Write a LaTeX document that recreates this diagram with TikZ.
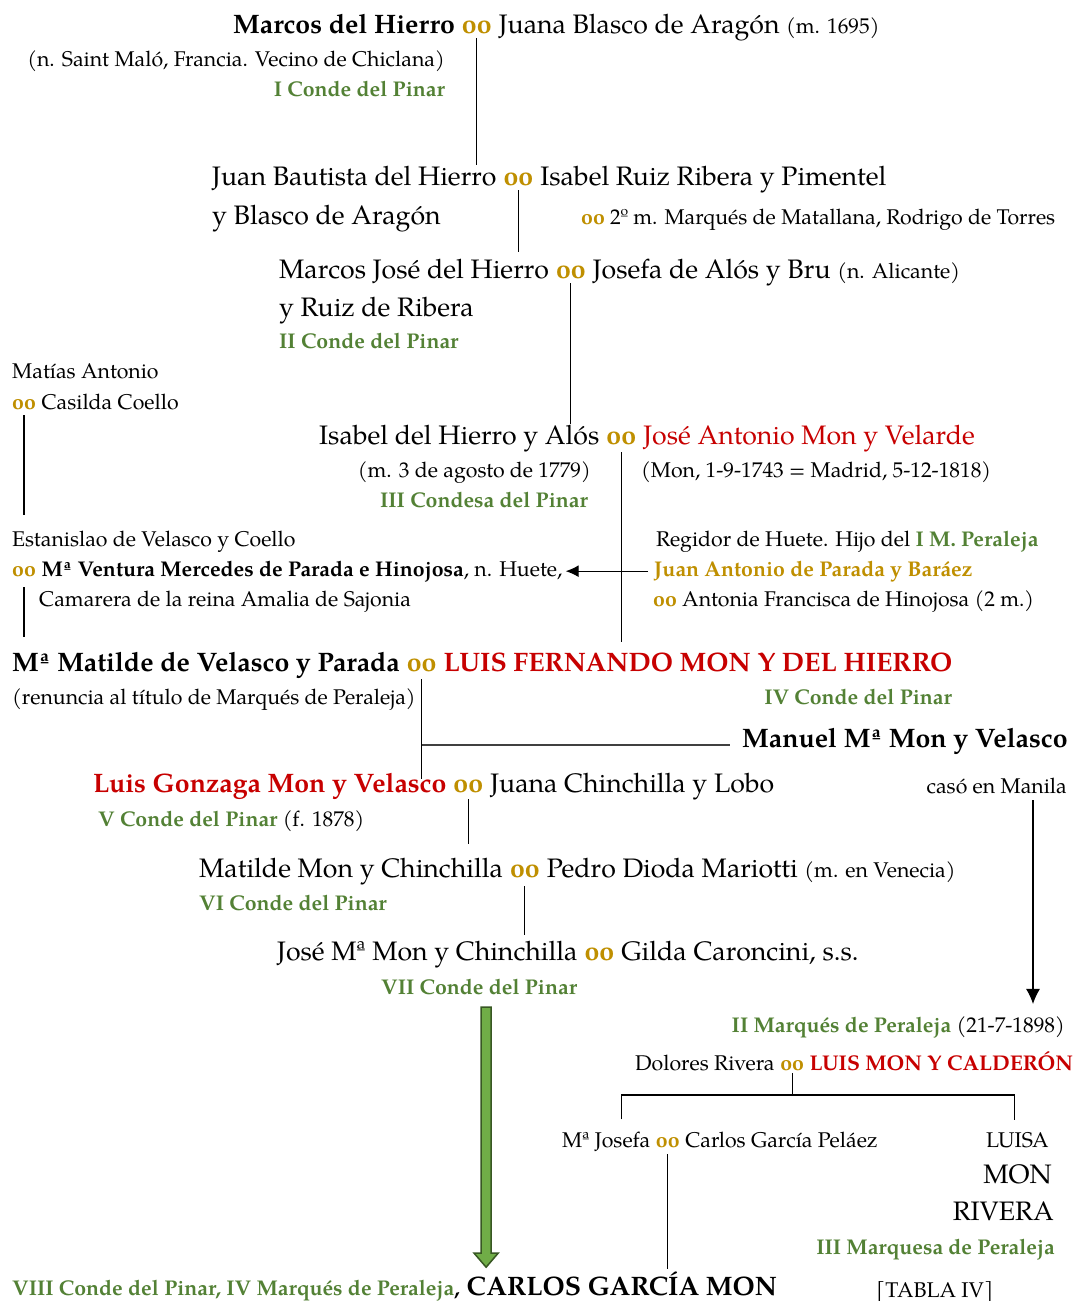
\documentclass[tikz,border=0pt]{standalone}
\usepackage{fontspec}
\setmainfont{TeX Gyre Pagella}
\usetikzlibrary{calc,arrows.meta}

\newlength{\du}
\setlength{\du}{1pt}
\newcommand{\bigfont}{\fontsize{26.7}{30}\selectfont}
\newcommand{\midfont}{\fontsize{21.3}{25}\selectfont}

\definecolor{wedgold}{rgb}{0.749020, 0.560784, 0.000000}
\definecolor{pinargreen}{rgb}{0.325490, 0.505882, 0.207843}
\definecolor{monred}{rgb}{0.780392, 0.000000, 0.000000}
\definecolor{arrowfill}{rgb}{0.439216, 0.678431, 0.278431}
\definecolor{arrowedge}{rgb}{0.219608, 0.341176, 0.137255}

\tikzset{
  namebig/.style={inner sep=0pt, anchor=base west, font=\bigfont},
  namebigbf/.style={namebig, font=\bigfont\bfseries},
  namemid/.style={inner sep=0pt, anchor=base west, font=\midfont},
  namemidbf/.style={namemid, font=\midfont\bfseries},
  wedbig/.style={namebigbf, text=wedgold, inner xsep=6.7\du},
  wedmid/.style={namemidbf, text=wedgold, inner xsep=5.3\du},
  titlemid/.style={namemidbf, text=pinargreen},
  kin/.style={draw=black, line width=1.1\du},
  forkline/.style={draw=black!75, line width=2\du},
  bigarrow/.style={draw=arrowedge, fill=arrowfill, line width=1.5\du, line join=miter},
}

\begin{document}
\begin{tikzpicture}
\pgftransformxscale{1.000000}
\pgftransformyscale{-1.000000}
\useasboundingbox (0\du,0\du) rectangle (1073\du,1301\du);

% I Conde
\node[namebigbf] (mdh) at (233.000000\du,33.000000\du){Marcos del Hierro};
\node[wedbig] (w1) at (mdh.base east){oo};
\node[namebig] (jba) at (w1.base east){Juana Blasco de Aragón {\midfont(m. 1695)}};
\node[namemid, anchor=base east] (nsm) at (445.000000\du,66.000000\du){(n. Saint Maló, Francia. Vecino de Chiclana)};
\node[titlemid, anchor=base east] (c1) at (445.000000\du,96.000000\du){I Conde del Pinar};

\node[namebig] (jbh) at (212.000000\du,185.000000\du){Juan Bautista del Hierro};
\node[wedbig] (w2) at (jbh.base east){oo};
\node[namebig] (irr) at (w2.base east){Isabel Ruiz Ribera y Pimentel};
\node[namebig] (yba) at (212.000000\du,224.000000\du){y Blasco de Aragón};
\node[namemid] (mtl) at (581.000000\du,224.000000\du){\textcolor{wedgold}{\bfseries oo} 2º m. Marqués de Matallana, Rodrigo de Torres};

% II Conde
\node[namebig] (mjh) at (279.000000\du,278.000000\du){Marcos José del Hierro};
\node[wedbig] (w3) at (mjh.base east){oo};
\node[namebig] (jab) at (w3.base east){Josefa de Alós y Bru {\midfont(n. Alicante)}};
\node[namebig] (yrr) at (279.000000\du,316.000000\du){y Ruiz de Ribera};
\node[titlemid] (c2) at (279.000000\du,348.000000\du){II Conde del Pinar};

\node[namemid] (mat) at (12.000000\du,378.000000\du){Matías Antonio};
\node[wedmid, inner xsep=0pt] (w4) at (12.000000\du,409.000000\du){oo};
\node[namemid] (cco) at (w4.base east){\ Casilda Coello};

% III Condesa
\node[namebig] (ihy) at (319.000000\du,444.000000\du){Isabel del Hierro y Alós};
\node[wedbig] (w5) at (ihy.base east){oo};
\node[namebig, text=monred] (jam) at (w5.base east){José Antonio Mon y Velarde};
\node[namemid, anchor=base east] (m1779) at (591.000000\du,477.000000\du){(m. 3 de agosto de 1779)};
\node[titlemid, anchor=base east] (c3) at (588.000000\du,507.000000\du){III Condesa del Pinar};
\node[namemid] (mon) at (641.000000\du,477.000000\du){(Mon, 1-9-1743 = Madrid, 5-12-1818)};

\node[namemid] (evc) at (12.000000\du,546.000000\du){Estanislao de Velasco y Coello};
\node[wedmid, inner xsep=0pt] (w6) at (12.000000\du,576.000000\du){oo};
\node[namemid] (mvm) at (w6.base east){\ {\bfseries Mª Ventura Mercedes de Parada e Hinojosa}, n. Huete,};
\node[namemid] (cam) at (39.000000\du,606.000000\du){Camarera de la reina Amalia de Sajonia};

\node[namemid] (reg) at (656.000000\du,546.000000\du){Regidor de Huete. Hijo del \textcolor{pinargreen}{\bfseries I M. Peraleja}};
\node[namemidbf, text=wedgold] (jap) at (654.000000\du,576.000000\du){Juan Antonio de Parada y Baráez};
\node[namemid] (afh) at (653.000000\du,606.000000\du){\textcolor{wedgold}{\bfseries oo} Antonia Francisca de Hinojosa (2 m.)};

% IV Conde
\node[namebigbf] (mmv) at (12.000000\du,671.000000\du){Mª Matilde de Velasco y Parada};
\node[wedbig] (w7) at (mmv.base east){oo};
\node[namebigbf, text=monred] (lfm) at (w7.base east){LUIS FERNANDO MON Y DEL HIERRO};
\node[namemid] (ren) at (12.000000\du,704.000000\du){(renuncia al título de Marqués de Peraleja)};
\node[titlemid, anchor=base east] (c4) at (952.000000\du,704.000000\du){IV Conde del Pinar};
\node[namebigbf] (mmm) at (742.000000\du,747.000000\du){Manuel Mª Mon y Velasco};

% V Conde
\node[namebigbf, text=monred] (lgm) at (93.000000\du,792.000000\du){Luis Gonzaga Mon y Velasco};
\node[wedbig] (w8) at (lgm.base east){oo};
\node[namebig] (jcl) at (w8.base east){Juana Chinchilla y Lobo};
\node[namemid, anchor=base east] (cma) at (1067.000000\du,793.000000\du){casó en Manila};
\node[namemid] (c5) at (98.000000\du,826.000000\du){\textcolor{pinargreen}{\bfseries V Conde del Pinar} (f. 1878)};

% VI Conde
\node[namebig] (mmc) at (199.000000\du,877.000000\du){Matilde Mon y Chinchilla};
\node[wedbig] (w9) at (mmc.base east){oo};
\node[namebig] (pdm) at (w9.base east){Pedro Dioda Mariotti {\midfont(m. en Venecia)}};
\node[titlemid] (c6) at (199.000000\du,910.000000\du){VI Conde del Pinar};

% VII Conde
\node[namebig] (jmc) at (277.000000\du,960.000000\du){José Mª Mon y Chinchilla};
\node[wedbig] (w10) at (jmc.base east){oo};
\node[namebig] (gcs) at (w10.base east){Gilda Caroncini, s.s.};
\node[titlemid] (c7) at (381.000000\du,994.000000\du){VII Conde del Pinar};

% Peraleja
\node[namemid, anchor=base east] (pmr) at (1065.000000\du,1032.000000\du){\textcolor{pinargreen}{\bfseries II Marqués de Peraleja} (21-7-1898)};
\node[namemid] (dri) at (635.000000\du,1070.000000\du){Dolores Rivera};
\node[wedmid] (w11) at (dri.base east){oo};
\node[namemidbf, text=monred] (lmc) at (w11.base east){LUIS MON Y CALDERÓN};
\node[namemid] (mjo) at (562.000000\du,1147.000000\du){Mª Josefa};
\node[wedmid] (w12) at (mjo.base east){oo};
\node[namemid] (cgp) at (w12.base east){Carlos García Peláez};
\node[namemid, anchor=base east] (lui) at (1049.000000\du,1147.000000\du){LUISA};
\node[namebig, anchor=base east] (lmo) at (1052.000000\du,1183.000000\du){MON};
\node[namebig, anchor=base east] (lri) at (1054.000000\du,1220.000000\du){RIVERA};
\node[titlemid, anchor=base east] (c8) at (1055.000000\du,1254.000000\du){III Marquesa de Peraleja};

% VIII Conde
\node[titlemid] (c9) at (12.000000\du,1295.000000\du){VIII Conde del Pinar, IV Marqués de Peraleja};
\node[namebigbf] (cgm) at (c9.base east){{\midfont,} CARLOS GARCÍA MON};
\node[namemid] (tab) at (876.000000\du,1297.000000\du){[TABLA IV]};

% descent lines
\draw[kin] ($(w1.base)+(0,5\du)$)--(w1.base |- jbh.north);
\draw[kin, shorten >=6\du] ($(w2.base)+(0,5\du)$)--(w2.base |- mjh.north);
\draw[kin] ($(w3.base)+(0,5\du)$)--(w3.base |- ihy.north);
\draw[kin, shorten >=15\du] ($(w4.base)+(0,6\du)$)--(w4.base |- evc.north);
\draw[kin, shorten >=10\du] ($(w5.base)+(0,8\du)$)--(w5.base |- lfm.north);
\draw[kin, shorten >=15\du] ($(w6.base)+(0,11\du)$)--(w6.base |- mmv.north);
\draw[kin, shorten >=-6\du] ($(w7.base)+(0,8\du)$)--(w7.base |- lgm.north);
\draw[forkline, shorten >=12\du] (w7.base |- mmm.mid)--(mmm.mid west);
\draw[kin, shorten >=13\du] ($(w8.base)+(0,7\du)$)--(w8.base |- mmc.north);
\draw[kin, shorten >=5\du] ($(w9.base)+(0,9\du)$)--(w9.base |- jmc.north);
% to the II Marques
\coordinate (manila) at ($(cma.base east)+(-34\du,7\du)$);
\draw[kin, -{Latex[length=15pt,width=14pt]}, shorten >=12\du] (manila)--(manila |- pmr.north);
\draw[kin, -{Latex[length=13pt,width=12pt]}] ($(jap.west)+(-6\du,0)$)--($(mvm.east |- jap.west)+(3\du,0)$);

% Peraleja fork
\draw[kin] ($(w11.base)+(0,3\du)$)--($(w11.base)+(0,25\du)$) coordinate (fork);
\draw[kin] ($(mjo.north)+(15\du,-12\du)$) |- (fork) -| ($(lui.north)+(-3\du,-12\du)$);
\draw[kin, shorten >=2\du] ($(w12.base)+(0,7\du)$)--(w12.base |- cgm.north);

% green arrow
\coordinate (gtop) at ($(c7.base)+(7\du,13\du)$);
\coordinate (gtip) at ($(gtop |- cgm.north)+(0,-4\du)$);
\draw[bigarrow] ($(gtop)+(-5\du,0)$)--($(gtip)+(-5\du,-14\du)$)--($(gtip)+(-12\du,-14\du)$)--(gtip)--($(gtip)+(12\du,-14\du)$)--($(gtip)+(5\du,-14\du)$)--($(gtop)+(5\du,0)$)--cycle;
\end{tikzpicture}
\end{document}
